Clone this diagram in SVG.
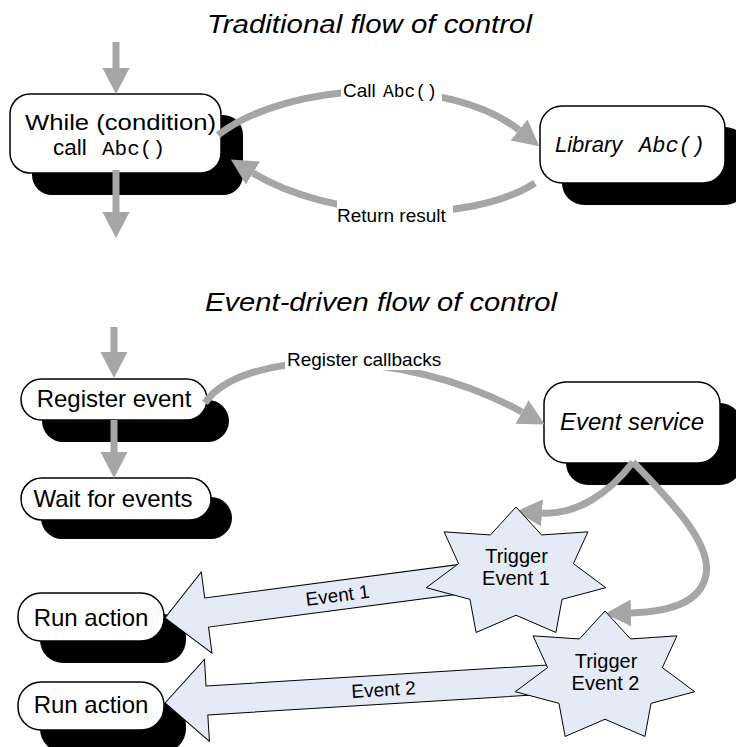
<svg xmlns="http://www.w3.org/2000/svg" width="736" height="747" viewBox="0 0 736 747">
<defs>
<marker id="ah" markerUnits="userSpaceOnUse" markerWidth="28" markerHeight="30" viewBox="0 -15 28 30" refX="0" refY="0" orient="auto"><path d="M0,-13.5 L26,0 L0,13.5 Z" fill="#a6a6a6"/></marker>
<style>
.t{font-family:"Liberation Sans",Arial,sans-serif;fill:#000}
.m{font-family:"Liberation Mono","Courier New",monospace}
.box{fill:#fff;stroke:#000;stroke-width:1.5}
.sh{fill:#000}
.ln{fill:none;stroke:#a6a6a6;stroke-width:7;marker-end:url(#ah)}
.blk{fill:#e4ebf6;stroke:#000;stroke-width:1}
.lbl{fill:#fff}
</style>
</defs>
<rect width="736" height="747" fill="#fff"/>
<g id="titles">
<text class="t" x="207" y="33" font-size="26" font-style="italic" textLength="325" lengthAdjust="spacingAndGlyphs">Traditional flow of control</text>
<text class="t" x="205" y="311" font-size="26" font-style="italic" textLength="352" lengthAdjust="spacingAndGlyphs">Event-driven flow of control</text>
</g>
<g id="while-node">
<rect class="sh" x="32" y="115" width="211" height="80" rx="20"/>
<rect class="box" x="10" y="94" width="211" height="79" rx="20"/>
<text class="t" x="25" y="130" font-size="22" textLength="191" lengthAdjust="spacingAndGlyphs">While (condition)</text>
<text class="t" x="53" y="155" font-size="22.5">call</text>
<text class="m" x="102" y="155" font-size="21">Abc()</text>
</g>
<g id="library-node">
<rect class="sh" x="562" y="127" width="185" height="78" rx="22"/>
<rect class="box" x="540" y="106" width="185" height="77" rx="22"/>
<text class="t" x="555" y="152" font-size="22" font-style="italic">Library</text>
<text class="m" x="639" y="152" font-size="22" font-style="italic">Abc()</text>
</g>
<g id="register-event-node">
<rect class="sh" x="42" y="400" width="187" height="42" rx="21"/>
<rect class="box" x="21" y="379" width="186" height="41" rx="20.5"/>
<text class="t" x="114" y="407" font-size="24" text-anchor="middle">Register event</text>
</g>
<g id="wait-node">
<rect class="sh" x="41" y="497" width="191" height="42" rx="21"/>
<rect class="box" x="21" y="478" width="190" height="42" rx="21"/>
<text class="t" x="113" y="507" font-size="24" text-anchor="middle">Wait for events</text>
</g>
<g id="event-service-node">
<rect class="sh" x="566" y="403" width="176" height="82" rx="22"/>
<rect class="box" x="544" y="382" width="176" height="81" rx="22"/>
<text class="t" x="632" y="430" font-size="24" font-style="italic" text-anchor="middle">Event service</text>
</g>
<g id="run-action-1">
<rect class="sh" x="40" y="614" width="146" height="49" rx="23"/>
<rect class="box" x="18" y="593" width="146" height="48" rx="23"/>
<text class="t" x="91" y="626" font-size="24" text-anchor="middle">Run action</text>
</g>
<g id="run-action-2">
<rect class="sh" x="40" y="703" width="146" height="49" rx="23"/>
<rect class="box" x="18" y="682" width="146" height="48" rx="23"/>
<text class="t" x="91" y="713" font-size="24" text-anchor="middle">Run action</text>
</g>
<g id="connectors">
<path class="ln" d="M116,42 L116,68"/>
<path class="ln" d="M116,170 L116,212"/>
<path class="ln" d="M218,135 C 290,80 450,75 519,130"/>
<path class="ln" d="M535,183 C 470,225 330,220 253,173"/>
<path class="ln" d="M114,327 L114,352"/>
<path class="ln" d="M114,420 L114,452"/>
<path class="ln" d="M205,403 C 240,350 400,345 522,412"/>
<path class="ln" d="M633,462 C 608,495 575,515 542,513"/>
<path class="ln" d="M633,462 C 675,505 712,545 706,575 C 700,605 665,612 631,613"/>
<rect class="lbl" x="341" y="79" width="101" height="25"/>
<text class="t" x="343" y="97" font-size="19">Call</text>
<text class="m" x="383" y="97" font-size="18">Abc()</text>
<rect class="lbl" x="337" y="199" width="116" height="27"/>
<text class="t" x="337" y="222" font-size="19">Return result</text>
<rect class="lbl" x="285" y="349" width="160" height="21"/>
<text class="t" x="287" y="366" font-size="19">Register callbacks</text>
<g transform="translate(165,618) rotate(-7.5)">
<polygon class="blk" points="0,0 42,-41 42,-14.7 320,-14.7 320,14.7 42,14.7 42,41"/>
<text class="t" x="174" y="6.5" font-size="19" text-anchor="middle">Event 1</text>
</g>
<g transform="translate(165,703) rotate(-3.5)">
<polygon class="blk" points="0,0 42,-41 42,-14.5 400,-14.5 400,14.5 42,14.5 42,41"/>
<text class="t" x="219" y="6.5" font-size="19" text-anchor="middle">Event 2</text>
</g>
</g>
<g id="trigger-event-1" transform="translate(516,573)">
<polygon class="blk" points="0,-66 25.55,-38.06 71.93,-41.15 57.4,-9.4 89.69,14.69 46.03,26.34 39.92,59.46 0,42.24 -39.92,59.46 -46.03,26.34 -89.69,14.69 -57.4,-9.4 -71.93,-41.15 -25.55,-38.06"/>
<text class="t" x="0.5" y="-10" font-size="20" text-anchor="middle">Trigger</text>
<text class="t" x="0" y="12" font-size="20" text-anchor="middle">Event 1</text>
</g>
<g id="trigger-event-2" transform="translate(605,677)">
<polygon class="blk" points="0,-66 25.55,-38.06 71.93,-41.15 57.4,-9.4 89.69,14.69 46.03,26.34 39.92,59.46 0,42.24 -39.92,59.46 -46.03,26.34 -89.69,14.69 -57.4,-9.4 -71.93,-41.15 -25.55,-38.06"/>
<text class="t" x="1" y="-9" font-size="20" text-anchor="middle">Trigger</text>
<text class="t" x="0.5" y="13" font-size="20" text-anchor="middle">Event 2</text>
</g>
</svg>
